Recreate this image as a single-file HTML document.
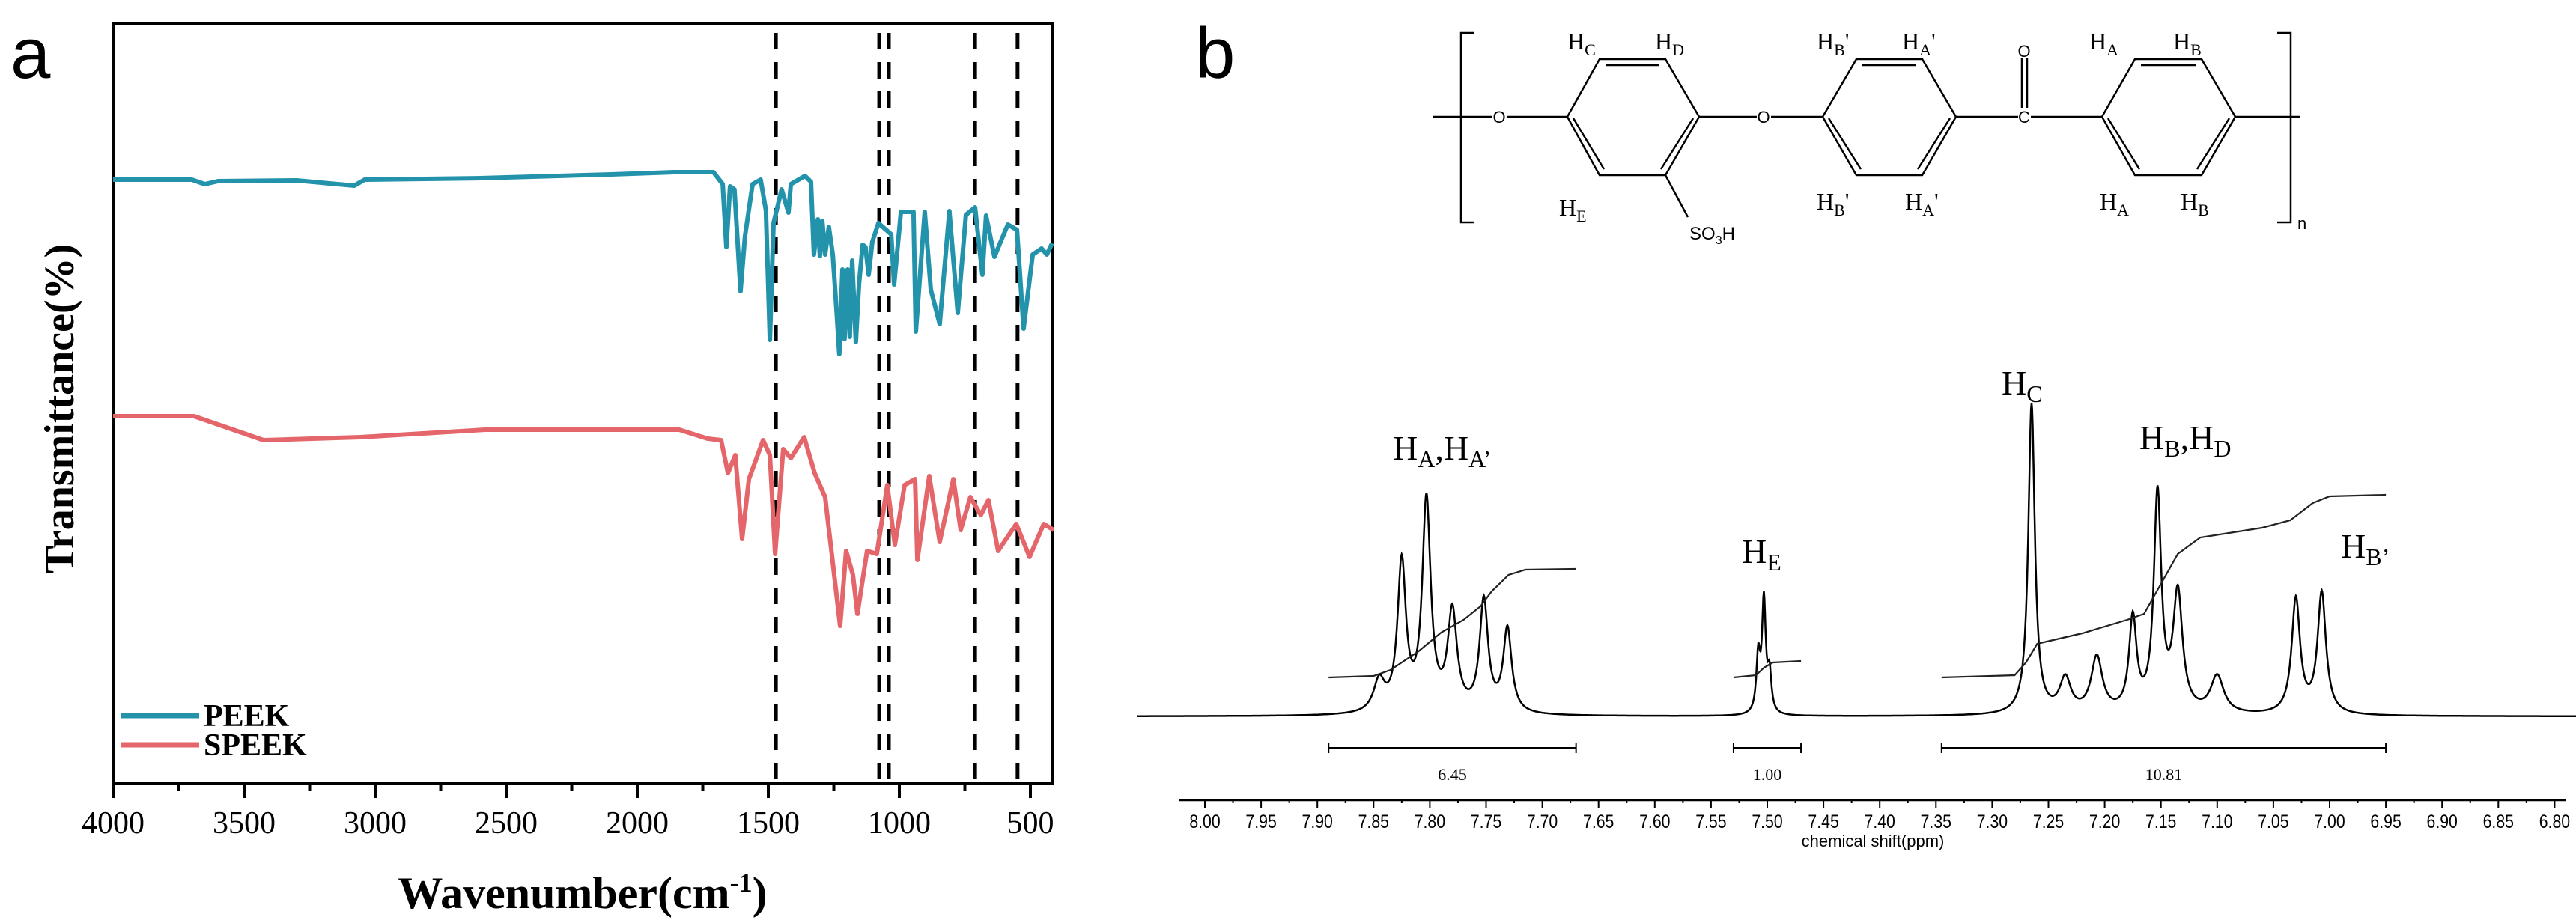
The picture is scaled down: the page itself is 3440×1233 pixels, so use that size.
<!DOCTYPE html>
<html><head><meta charset="utf-8"><style>
html,body{margin:0;padding:0;background:#fff;}
svg{display:block;}
.tm{font-family:"Liberation Serif",serif;}
.ar{font-family:"Liberation Sans",sans-serif;}
</style></head><body>
<svg id="fig" width="3440" height="1233" viewBox="0 0 3440 1233" xmlns="http://www.w3.org/2000/svg">
<rect width="3440" height="1233" fill="#fff"/>
<g id="panelA"></g>
<g id="panelB"></g>
</svg>
<script>
// ---------- Panel A data ----------
const xTicks=[4000,3500,3000,2500,2000,1500,1000,500];
const dashedLines=[1471,1077,1040,711,549];
const peekWn=[4000,3700,3650,3600,3300,3080,3040,2600,2100,1860,1709,1674,1660,1646,1629,1606,1589,1560,1529,1509,1494,1480,1449,1423,1414,1360,1337,1326,1311,1303,1294,1283,1269,1254,1240,1229,1217,1209,1197,1189,1180,1166,1154,1140,1129,1117,1103,1080,1031,1020,994,946,937,903,880,846,809,777,746,711,683,669,637,617,586,551,526,491,457,437,417];
const peekT=[240,240,246,242,241,248,240,238,233,230,230,246,330,249,253,389,316,246,240,281,454,298,253,284,246,235,243,340,293,342,295,340,303,340,413,473,360,453,360,450,348,457,380,327,330,367,323,298,313,380,283,283,443,283,387,433,282,418,287,277,367,288,343,326,300,307,439,340,332,340,325];
const speekWn=[4000,3691,3426,3057,2580,1840,1731,1680,1654,1626,1600,1574,1520,1494,1474,1443,1414,1363,1323,1283,1226,1203,1177,1160,1123,1086,1046,1017,980,940,931,886,846,794,766,729,689,660,623,554,503,449,411];
const speekT=[556,556,588,584,574,574,586,588,632,608,720,640,588,608,740,600,612,584,632,664,836,736,768,820,736,740,648,728,648,640,748,636,724,640,708,664,688,668,736,700,744,700,708];
// ---------- Panel B data ----------
const ppmTicks=[8.00,7.95,7.90,7.85,7.80,7.75,7.70,7.65,7.60,7.55,7.50,7.45,7.40,7.35,7.30,7.25,7.20,7.15,7.10,7.05,7.00,6.95,6.90,6.85,6.80];
const peakPpm=[7.845,7.825,7.803,7.780,7.752,7.731,7.508,7.503,7.498,7.265,7.235,7.207,7.175,7.153,7.135,7.100,7.030,7.007];
const peakH=[10,48,68,32,36,27,18,36,12,100,11,18,30,70,38,12,37,39];
const peakW=[0.006,0.0045,0.0045,0.005,0.0045,0.0045,0.002,0.002,0.002,0.0035,0.006,0.006,0.004,0.004,0.005,0.007,0.0045,0.0045];
const integralVals=["6.45","1.00","10.81"];
const integralRanges=[[7.89,7.67],[7.53,7.47],[7.345,6.95]];

const NS="http://www.w3.org/2000/svg";
function mk(parent,tag,attrs,text){const e=document.createElementNS(NS,tag);for(const k in attrs)e.setAttribute(k,attrs[k]);if(text!==undefined)e.textContent=text;parent.appendChild(e);return e;}

// ---------- Panel A ----------
const A=document.getElementById('panelA');
const L=151,R=1406,T=32,B=1047;
const xA=w=>L+(4000-w)*0.35;
let t;
t=mk(A,'text',{x:14,y:104,'font-size':96,class:'ar'},'a');

const frame=mk(A,'rect',{x:L,y:T,width:R-L,height:B-T,fill:'none',stroke:'#000','stroke-width':4});

dashedLines.forEach((w,i)=>{const l=mk(A,'line',{x1:xA(w),x2:xA(w),y1:44,y2:1040,stroke:'#000','stroke-width':5,'stroke-dasharray':'22 17'});
});
function series(wn,tv,color,name){const d=wn.map((w,i)=>(i?'L':'M')+xA(w).toFixed(1)+' '+tv[i]).join(' ');
const p=mk(A,'path',{d:d,fill:'none',stroke:color,'stroke-width':6,'stroke-linejoin':'round'});
}
series(peekWn,peekT,'#2293ab','peek-line');
series(speekWn,speekT,'#e4666a','speek-line');
for(let w=4000;w>=500;w-=250){const major=w%500===0;const tk=mk(A,'line',{x1:xA(w),x2:xA(w),y1:B,y2:B+(major?19:10),stroke:'#000','stroke-width':4});
}
xTicks.forEach(w=>{const tl=mk(A,'text',{x:xA(w),y:1113,'font-size':42,'text-anchor':'middle',class:'tm'},String(w));
});
t=mk(A,'text',{x:778,y:1213,'font-size':60,'font-weight':'bold','text-anchor':'middle',class:'tm'});

t.innerHTML='Wavenumber(cm<tspan dy="-22" font-size="36">-1</tspan><tspan dy="22">)</tspan>';
t=mk(A,'text',{x:0,y:0,'font-size':56,'font-weight':'bold','text-anchor':'middle',class:'tm',transform:'translate(98,546) rotate(-90)'},'Transmittance(%)');

[['PEEK','#2293ab',956],['SPEEK','#e4666a',995]].forEach(([n,c,y])=>{
const ll=mk(A,'line',{x1:162,x2:266,y1:y,y2:y,stroke:c,'stroke-width':7});

const lt=mk(A,'text',{x:272,y:y+14,'font-size':42,'font-weight':'bold',class:'tm'},n);
});

// ---------- Panel B ----------
const Bp=document.getElementById('panelB');
const xB=p=>1609+(8.00-p)*1502;
const base=957, scale=4.15;
t=mk(Bp,'text',{x:1596,y:104,'font-size':96,class:'ar'},'b');

const S=mk(Bp,'g',{stroke:'#000','stroke-width':2.5,fill:'none'});

function ring(x0,x1,x2,x3){const yT=79,yM=156,yB=234;
mk(S,'polygon',{points:`${x0},${yM} ${x1},${yT} ${x2},${yT} ${x3},${yM} ${x2},${yB} ${x1},${yB}`});
mk(S,'line',{x1:x1+8,y1:yT+8,x2:x2-8,y2:yT+8});
mk(S,'line',{x1:x0+8,y1:yM+2,x2:x1+6,y2:yB-8});
mk(S,'line',{x1:x3-8,y1:yM+2,x2:x2-6,y2:yB-8});}
ring(2093,2136,2224,2269);ring(2434,2479,2567,2612);ring(2807,2851,2940,2985);
mk(S,'path',{d:'M1969 44 H1951 V297 H1969'});mk(S,'path',{d:'M3041 44 H3059 V297 H3041'});
mk(S,'line',{x1:1914,y1:156,x2:1993,y2:156});mk(S,'line',{x1:2012,y1:156,x2:2093,y2:156});
mk(S,'line',{x1:2269,y1:156,x2:2346,y2:156});mk(S,'line',{x1:2365,y1:156,x2:2434,y2:156});
mk(S,'line',{x1:2612,y1:156,x2:2695,y2:156});mk(S,'line',{x1:2712,y1:156,x2:2807,y2:156});
mk(S,'line',{x1:2985,y1:156,x2:3071,y2:156});
mk(S,'line',{x1:2700,y1:78,x2:2700,y2:144});mk(S,'line',{x1:2707,y1:78,x2:2707,y2:144});
mk(S,'line',{x1:2224,y1:234,x2:2254,y2:290});
const ST=mk(Bp,'g',{class:'ar','font-size':22,fill:'#000'});
[['O',2002,164],['O',2355,164],['C',2703,164],['O',2703,76]].forEach(([s,x,y])=>mk(ST,'text',{x:x,y:y,'text-anchor':'middle'},s));
mk(ST,'text',{x:2256,y:320,'font-size':24},'SO').innerHTML='SO<tspan dy="6" font-size="16">3</tspan><tspan dy="-6">H</tspan>';
mk(ST,'text',{x:3068,y:306,'font-size':22},'n');
const HT=mk(Bp,'g',{class:'tm','font-size':32,fill:'#000'});

[['C',"",2093,66],['D',"",2210,66],['B',"'",2426,66],['A',"'",2540,66],['A',"",2790,66],['B',"",2902,66],
 ['E',"",2082,288],['B',"'",2426,280],['A',"'",2544,280],['A',"",2804,280],['B',"",2912,280]].forEach(([s,p,x,y])=>{
 mk(HT,'text',{x:x,y:y}).innerHTML=`H<tspan dy="8" font-size="22">${s}</tspan><tspan dy="-8">${p}</tspan>`;});
let d='';
for(let p=8.06;p>=6.78;p-=0.0005){let I=0;peakPpm.forEach((c,i)=>{const u=(p-c)/peakW[i];I+=peakH[i]/(1+u*u);});
 d+=(d?'L':'M')+xB(p).toFixed(1)+' '+(base-I*scale).toFixed(1)+' ';}
const sp=mk(Bp,'path',{d:d,fill:'none',stroke:'#000','stroke-width':2.5});

const integ=[
 [[7.89,905],[7.85,903],[7.835,895],[7.81,870],[7.79,845],[7.77,828],[7.755,810],[7.745,790],[7.73,768],[7.715,761],[7.67,760]],
 [[7.53,905],[7.51,902],[7.503,892],[7.495,885],[7.47,883]],
 [[7.345,905],[7.28,902],[7.27,885],[7.26,860],[7.22,846],[7.18,828],[7.165,820],[7.15,780],[7.135,740],[7.115,718],[7.06,705],[7.035,695],[7.015,672],[7.0,663],[6.95,661]]];
integ.forEach(pts=>{const c=mk(Bp,'path',{d:pts.map((q,i)=>(i?'L':'M')+xB(q[0]).toFixed(1)+' '+q[1]).join(' '),fill:'none',stroke:'#222','stroke-width':2.2});
});
integralRanges.forEach((r,i)=>{const x1=xB(r[0]),x2=xB(r[1]);
 const g=mk(Bp,'g',{stroke:'#000','stroke-width':2});
 mk(g,'line',{x1:x1,x2:x2,y1:999,y2:999});mk(g,'line',{x1:x1,x2:x1,y1:992,y2:1006});mk(g,'line',{x1:x2,x2:x2,y1:992,y2:1006});
 const v=mk(Bp,'text',{x:(x1+x2)/2,y:1042,'font-size':22,'text-anchor':'middle',class:'tm'},integralVals[i]);
 });
const ax=mk(Bp,'line',{x1:1574,x2:3426,y1:1069,y2:1069,stroke:'#000','stroke-width':2.5});

for(let k=0;k<=48;k++){const p=8.0-k*0.025;const x=xB(p);mk(Bp,'line',{x1:x,x2:x,y1:1069,y2:1069+(k%2?4:10),stroke:'#000','stroke-width':2});}
ppmTicks.forEach(p=>{const tl=mk(Bp,'text',{x:xB(p),y:1106,'font-size':25,'text-anchor':'middle',class:'ar',transform:`translate(${xB(p)},0) scale(0.85,1) translate(${-xB(p)},0)`},p.toFixed(2));
 });
t=mk(Bp,'text',{x:2501,y:1131,'font-size':22,'text-anchor':'middle',class:'ar'},'chemical shift(ppm)');

const PL=mk(Bp,'g',{class:'tm','font-size':46,fill:'#000'});

mk(PL,'text',{x:1860,y:614}).innerHTML='H<tspan dy="10" font-size="32">A</tspan><tspan dy="-10">,H</tspan><tspan dy="10" font-size="32">A’</tspan>';
mk(PL,'text',{x:2326,y:752}).innerHTML='H<tspan dy="10" font-size="32">E</tspan>';
mk(PL,'text',{x:2673,y:527}).innerHTML='H<tspan dy="10" font-size="32">C</tspan>';
mk(PL,'text',{x:2857,y:600}).innerHTML='H<tspan dy="10" font-size="32">B</tspan><tspan dy="-10">,H</tspan><tspan dy="10" font-size="32">D</tspan>';
mk(PL,'text',{x:3126,y:745}).innerHTML='H<tspan dy="10" font-size="32">B’</tspan>';
</script>
</body></html>
